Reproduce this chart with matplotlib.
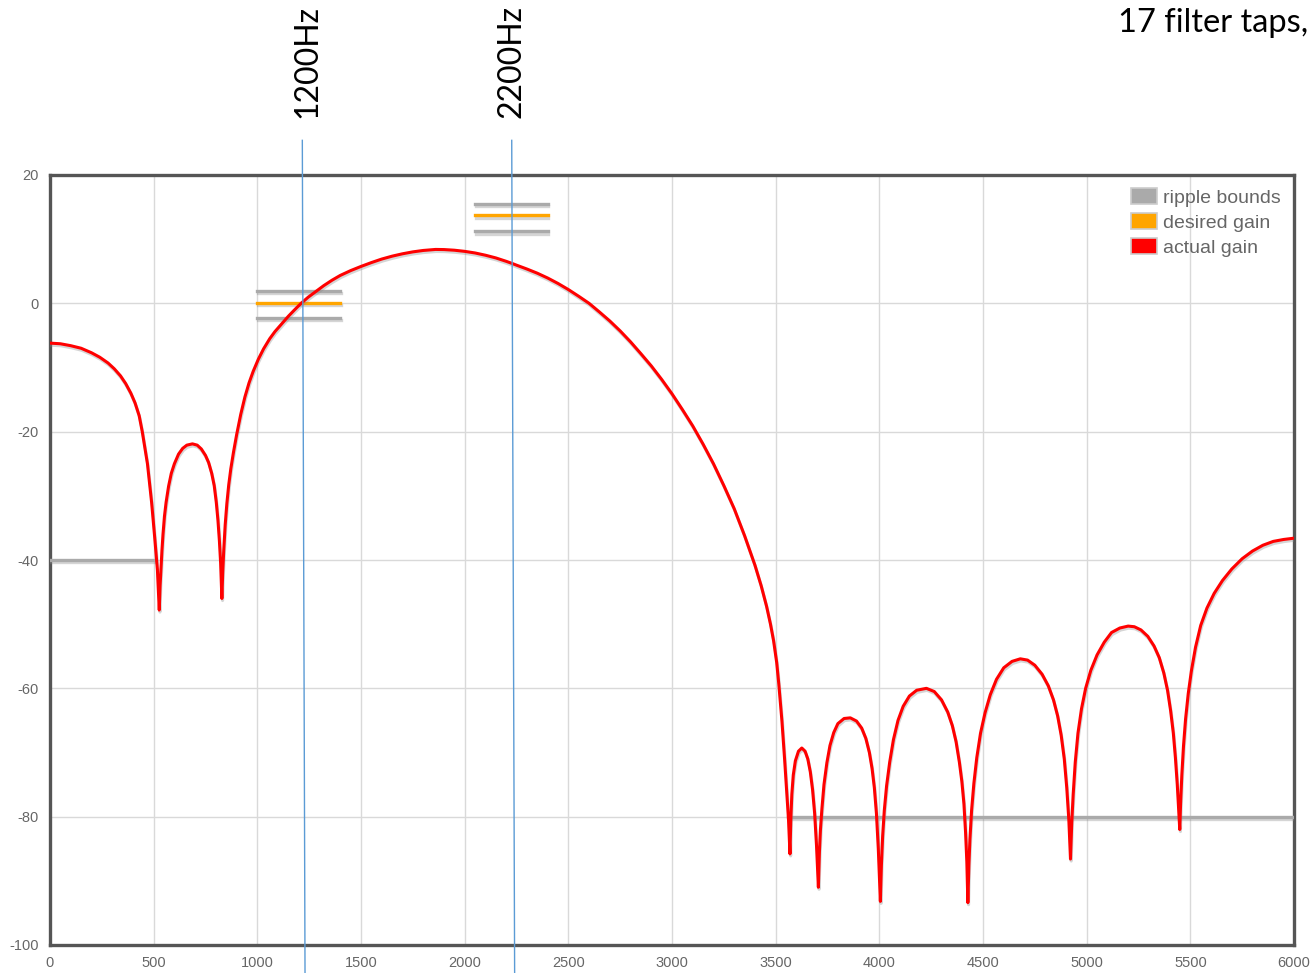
import matplotlib
matplotlib.use("Agg")
import matplotlib.pyplot as plt
import matplotlib.patheffects as pe
from matplotlib.patches import Patch

plt.rcParams["axes.unicode_minus"] = False

# Frequency response, lobe by lobe (Hz / dB)
f_left = [0, 50, 100, 150, 200, 240, 280, 310, 340, 365, 390, 410, 430, 445, 470, 490, 505, 518, 527]
g_left = [-6.2, -6.3, -6.6, -7.0, -7.7, -8.4, -9.3, -10.2, -11.3, -12.5, -14.0, -15.5, -17.5,
          -20.0, -25.0, -31.0, -36.5, -41.5, -47.8]

f_lobe1 = [531, 535, 540, 545, 552, 560, 572, 585, 600, 620, 640, 660, 687, 710, 730, 750, 765,
           780, 792, 802, 810, 817, 823, 829]
g_lobe1 = [-44.0, -41.5, -38.5, -36.0, -33.2, -31.0, -28.5, -26.5, -25.0, -23.5, -22.6, -22.1,
           -21.9, -22.1, -22.7, -23.7, -24.8, -26.5, -28.4, -31.0, -33.8, -37.0, -40.5, -46.0]

f_main = [833, 838, 845, 853, 862, 872, 885, 900, 920, 940,
          960, 980, 1005, 1030, 1060, 1085, 1120, 1150, 1180, 1211,
          1245, 1280, 1320, 1360, 1400, 1450, 1500, 1550, 1600, 1650,
          1700, 1750, 1800, 1860, 1900, 1950, 2000, 2050, 2100, 2150,
          2200, 2226, 2250, 2300, 2350, 2400, 2450, 2500, 2550, 2600,
          2650, 2700, 2750, 2800, 2850, 2900, 2950, 3000, 3050, 3100,
          3150, 3200, 3250, 3300, 3350, 3400, 3430, 3456, 3475, 3490,
          3505, 3515, 3530, 3543, 3553, 3562, 3569]
g_main = [-42.0, -38.5, -34.5, -31.2, -28.3, -25.8, -23.2, -20.5, -17.3, -14.6,
          -12.4, -10.6, -8.7, -7.1, -5.5, -4.4, -3.1, -2.0, -1.0, 0.0,
          0.95, 1.8, 2.75, 3.6, 4.35, 5.1, 5.75, 6.35, 6.9, 7.35,
          7.72, 8.02, 8.24, 8.4, 8.38, 8.28, 8.1, 7.85, 7.5, 7.08,
          6.55, 6.25, 5.95, 5.35, 4.7, 3.95, 3.1, 2.15, 1.1, 0.0,
          -1.35, -2.75, -4.3, -6.0, -7.85, -9.75, -11.85, -14.1, -16.55, -19.1,
          -21.95, -25.0, -28.4, -32.0, -36.2, -40.8, -44.0, -47.2, -50.0, -52.6,
          -56.0, -59.3, -65.0, -71.0, -76.0, -80.5, -85.8]

f_lobe2 = [3573, 3578, 3585, 3595, 3610, 3626, 3642, 3655, 3667, 3678, 3688, 3697, 3706]
g_lobe2 = [-80.5, -76.5, -73.5, -71.3, -69.8, -69.3, -69.8, -71.0, -73.0, -75.8, -79.5, -84.5, -91.0]

f_lobe3 = [3711, 3716, 3723, 3733, 3747, 3762, 3780, 3800, 3830, 3860, 3890, 3915, 3935, 3952,
           3965, 3976, 3986, 3995, 4005]
g_lobe3 = [-85.5, -82.0, -78.8, -75.0, -71.6, -68.9, -66.9, -65.5, -64.7, -64.6, -65.1, -66.2,
           -67.8, -70.0, -72.5, -75.5, -79.5, -85.0, -93.2]

f_lobe4 = [4010, 4016, 4024, 4035, 4050, 4068, 4090, 4115, 4145, 4180, 4227, 4265, 4300, 4330,
           4352, 4370, 4386, 4398, 4408, 4416, 4422, 4427]
g_lobe4 = [-87.5, -83.0, -79.0, -75.2, -71.5, -68.0, -65.0, -62.8, -61.2, -60.3, -60.0, -60.5,
           -61.8, -63.7, -65.8, -68.3, -71.5, -74.5, -78.0, -82.5, -87.0, -93.4]

f_lobe5 = [4432, 4437, 4445, 4456, 4470, 4488, 4510, 4535, 4565, 4600, 4640, 4680, 4715, 4750,
           4785, 4815, 4840, 4860, 4877, 4892, 4904, 4914, 4922]
g_lobe5 = [-87.5, -83.5, -79.0, -74.8, -70.8, -67.0, -63.8, -61.0, -58.6, -56.8, -55.8, -55.4,
           -55.6, -56.4, -57.8, -59.6, -61.8, -64.3, -67.3, -71.0, -75.5, -80.5, -86.6]

f_lobe6 = [4928, 4935, 4945, 4958, 4975, 4995, 5020, 5050, 5085, 5120, 5160, 5200, 5230, 5262,
           5295, 5325, 5350, 5372, 5390, 5405, 5418, 5428, 5437, 5444, 5449]
g_lobe6 = [-81.0, -76.5, -71.5, -67.0, -63.2, -60.0, -57.2, -54.8, -52.8, -51.3, -50.6, -50.3,
           -50.4, -50.9, -51.9, -53.4, -55.2, -57.6, -60.3, -63.5, -67.0, -70.8, -75.0, -79.0, -82.0]

f_right = [5453, 5459, 5467, 5477, 5490, 5505, 5525, 5550, 5580, 5615, 5655, 5700, 5750, 5800,
           5850, 5900, 5950, 6000]
g_right = [-78.0, -73.5, -69.0, -64.8, -60.8, -57.3, -53.6, -50.2, -47.5, -45.2, -43.2, -41.4,
           -39.8, -38.6, -37.7, -37.1, -36.8, -36.6]

freq = f_left + f_lobe1 + f_main + f_lobe2 + f_lobe3 + f_lobe4 + f_lobe5 + f_lobe6 + f_right
gain = g_left + g_lobe1 + g_main + g_lobe2 + g_lobe3 + g_lobe4 + g_lobe5 + g_lobe6 + g_right

# bands: (start Hz, end Hz, desired dB, upper bound, lower bound)
pass_bands = [(1000, 1400, 0.0, 1.9, -2.3), (2050, 2400, 13.7, 15.5, 11.2)]
stop_bands = [(0, 500, -40), (3560, 6000, -80)]

# marker lines (as drawn, slightly slanted) and their labels
marker_labels = ["1200Hz", "2200Hz"]
marker_top = [1217, 2227]
marker_bottom = [1230, 2241]
label_x_px = [307, 512]

x_ticks = list(range(0, 6001, 500))
y_ticks = list(range(-100, 21, 20))

W, H = 1313, 973
fig = plt.figure(figsize=(W / 100, H / 100), dpi=100)
ax = fig.add_axes([50 / W, 1 - 945 / H, (1294 - 50) / W, (945 - 175) / H])

shadow = [pe.SimpleLineShadow(offset=(0.5, -1.5), shadow_color="#888888", alpha=0.35), pe.Normal()]

for f0, f1, d, hi, lo in pass_bands:
    ax.plot([f0, f1], [hi, hi], color="#aaaaaa", lw=2.4, path_effects=shadow, zorder=3)
    ax.plot([f0, f1], [lo, lo], color="#aaaaaa", lw=2.4, path_effects=shadow, zorder=3)
    ax.plot([f0, f1], [d, d], color="#ffa500", lw=2.4, path_effects=shadow, zorder=3)
for f0, f1, lvl in stop_bands:
    ax.plot([f0, f1], [lvl, lvl], color="#aaaaaa", lw=2.4, path_effects=shadow, zorder=3)

ax.plot(freq, gain, color="#ff0000", lw=2.2, path_effects=shadow, zorder=4,
        solid_joinstyle="round")

ax.set_xlim(0, 6000)
ax.set_ylim(-100, 20)
ax.set_xticks(x_ticks)
ax.set_yticks(y_ticks)
ax.grid(True, color="#d9d9d9", lw=1)
ax.set_axisbelow(True)
ax.tick_params(length=0, labelsize=10.5, labelcolor="#666666", pad=8)
for lab in ax.get_xticklabels() + ax.get_yticklabels():
    lab.set_family("Liberation Sans")
for s in ax.spines.values():
    s.set_color("#555555")
    s.set_linewidth(2.4)

handles = [Patch(facecolor="#aaaaaa", edgecolor="#cccccc", lw=1.2, label="ripple bounds"),
           Patch(facecolor="#ffa500", edgecolor="#cccccc", lw=1.2, label="desired gain"),
           Patch(facecolor="#ff0000", edgecolor="#cccccc", lw=1.2, label="actual gain")]
leg = ax.legend(handles=handles, loc="upper right", frameon=False,
                bbox_to_anchor=(1 - 4 / 1244, 1 - 3 / 770),
                handlelength=1.3, handleheight=0.95, handletextpad=0.3, labelspacing=0.3,
                borderaxespad=0.1, prop={"family": "Liberation Sans", "size": 14})
for t in leg.get_texts():
    t.set_color("#666666")

for top, bot in zip(marker_top, marker_bottom):
    ax.plot([top, bot], [25.4, -104.4], color="#5b9bd5", lw=1.0, zorder=6, clip_on=False)

for lab, px in zip(marker_labels, label_x_px):
    fig.text(px / W, 1 - 118 / H, lab, rotation=90, ha="center", va="bottom",
             fontsize=23, family="Lato", color="black")

fig.text(1308 / W, 1 - 38 / H, "17 filter taps,", ha="right", va="bottom",
         fontsize=23.5, family="Lato", color="black")

fig.savefig("out.png", dpi=100)
